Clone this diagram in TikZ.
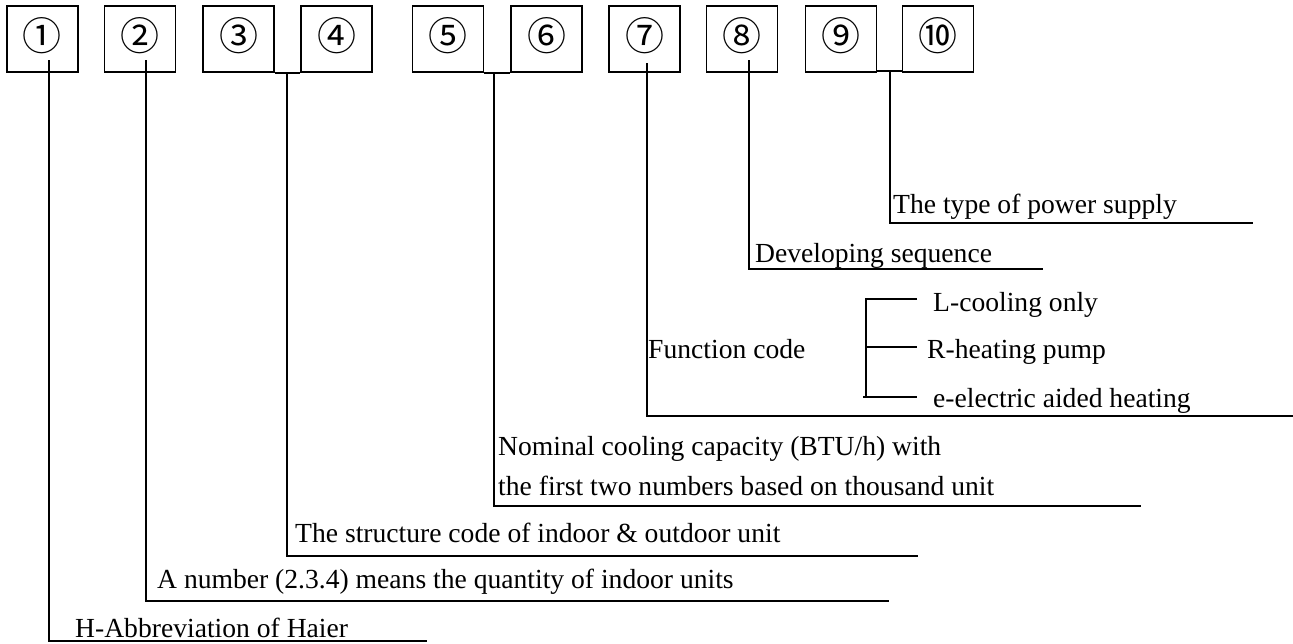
\documentclass[tikz,border=0pt]{standalone}
\usepackage{fontspec}
\setmainfont{Liberation Serif}
\newfontfamily\circfont{Noto Sans CJK SC}
\begin{document}
\begin{tikzpicture}[x=1pt,y=-1pt,
  box/.style={draw,line width=1.6pt,minimum width=71pt,minimum height=66pt,inner sep=0pt},
  num/.style={inner sep=0pt,font=\circfont\fontsize{39}{39}\selectfont},
  lbl/.style={anchor=base west,inner sep=0pt,font=\fontsize{27.6}{30}\selectfont},
  conn/.style={line width=1.4pt}]
\useasboundingbox (0,0) rectangle (1293,643);
% boxes
\node[box] (b1)  at (42.5,39) {};
\node[box] (b2)  at (140,39)  {};
\node[box] (b3)  at (238.5,39) {};
\node[box] (b4)  at (336.5,39) {};
\node[box] (b5)  at (448,39)  {};
\node[box] (b6)  at (546.5,39) {};
\node[box] (b7)  at (644.5,39) {};
\node[box] (b8)  at (742,39)  {};
\node[box] (b9)  at (841,39)  {};
\node[box] (b10) at (938,39)  {};
\node[num] (n1)  at ([yshift=3pt]b1.center)  {①};
\node[num] (n2)  at ([yshift=3pt]b2.center)  {②};
\node[num] (n3)  at ([yshift=3pt]b3.center)  {③};
\node[num] (n4)  at ([yshift=3pt]b4.center)  {④};
\node[num] (n5)  at ([yshift=3pt]b5.center)  {⑤};
\node[num] (n6)  at ([yshift=3pt]b6.center)  {⑥};
\node[num] (n7)  at ([yshift=3pt]b7.center)  {⑦};
\node[num] (n8)  at ([yshift=3pt]b8.center)  {⑧};
\node[num] (n9)  at ([yshift=3pt]b9.center)  {⑨};
\node[num] (n10) at ([yshift=3pt]b10.center) {⑩};
% joins
\draw[conn] (b3.south east) -- (b4.south west);
\draw[conn] (b5.south east) -- (b6.south west);
\draw[conn] ([yshift=2pt]b9.south east) -- ([yshift=2pt]b10.south west);
% connector points
\coordinate (s1) at (49,60);   \coordinate (k1) at (49,641);  \coordinate (e1) at (427,641);
\coordinate (s2) at (146,60);  \coordinate (k2) at (146,601); \coordinate (e2) at (889,601);
\coordinate (s3) at (287,72);  \coordinate (k3) at (287,556); \coordinate (e3) at (918,556);
\coordinate (s5) at (494,72);  \coordinate (k5) at (494,506); \coordinate (e5) at (1141,506);
\coordinate (s7) at (647,63);  \coordinate (k7) at (647,416); \coordinate (e7) at (1293,416);
\coordinate (s8) at (749,60);  \coordinate (k8) at (749,269); \coordinate (e8) at (1043,269);
\coordinate (s9) at (890,70);  \coordinate (k9) at (890,223); \coordinate (e9) at (1253,223);
\draw[conn] (s1) -- (k1) -- (e1);
\draw[conn] (s2) -- (k2) -- (e2);
\draw[conn] (s3) -- (k3) -- (e3);
\draw[conn] (s5) -- (k5) -- (e5);
\draw[conn] (s7) -- (k7) -- (e7);
\draw[conn] (s8) -- (k8) -- (e8);
\draw[conn] (s9) -- (k9) -- (e9);
% function code bracket
\coordinate (fa) at (866,299); \coordinate (fa2) at (917,299);
\coordinate (fb) at (866,347); \coordinate (fb2) at (917,347);
\coordinate (fc) at (866,397); \coordinate (fc0) at (863,397); \coordinate (fc2) at (917,397);
\draw[conn] (fa2) -- (fa) -- (fc);
\draw[conn] (fb) -- (fb2);
\draw[conn] (fc0) -- (fc2);
% labels
\node[lbl] (t1) at (75,637) {H-Abbreviation of Haier};
\node[lbl] (t2) at (157,588) {A number (2.3.4) means the quantity of indoor units};
\node[lbl] (t3) at (295,542) {The structure code of indoor \& outdoor unit};
\node[lbl] (t5a) at (498,455) {Nominal cooling capacity (BTU/h) with};
\node[lbl] (t5b) at (498,495) {the first two numbers based on thousand unit};
\node[lbl] (t7) at (648,358) {Function code};
\node[lbl] (tL) at (933,311) {L-cooling only};
\node[lbl] (tR) at (927,358) {R-heating pump};
\node[lbl] (tE) at (933,407) {e-electric aided heating};
\node[lbl] (t8) at (755,262) {Developing sequence};
\node[lbl] (t9) at (893,213) {The type of power supply};
\end{tikzpicture}
\end{document}
